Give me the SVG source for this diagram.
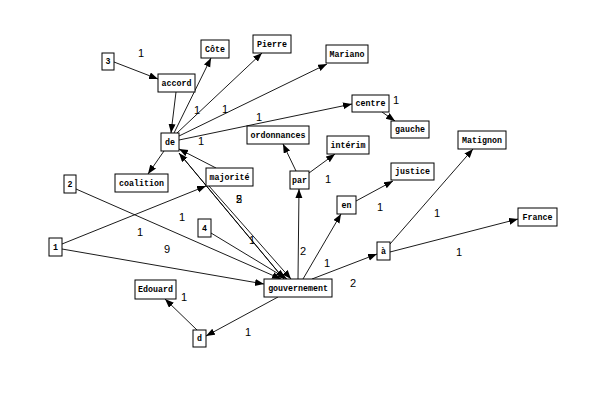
<svg xmlns="http://www.w3.org/2000/svg" width="593" height="402" viewBox="0 0 593 402">
<style>
.n rect{fill:#fff;stroke:#000;stroke-width:1}
.n text{font-family:"Liberation Mono",monospace;font-size:8.3px;font-weight:bold;text-anchor:middle;fill:#000}
.e path{fill:none;stroke:#000;stroke-width:0.9;marker-end:url(#a)}
.l text{font-family:"Liberation Sans",Arial,sans-serif;font-size:11px;text-anchor:middle;fill:#000}
</style>
<defs>
<marker id="a" markerUnits="userSpaceOnUse" markerWidth="10" markerHeight="8" refX="9" refY="3.5" orient="auto">
<path d="M0,0 L9,3.5 L0,7 z" fill="#000"/>
</marker>
</defs>
<rect width="593" height="402" fill="#fff"/>
<g id="edges" class="e">
<path d="M114,62 L158,79"/>
<path d="M176,92 L171,133"/>
<path d="M174,133 L211,58"/>
<path d="M177,133 L262,53"/>
<path d="M179,136 L327,64"/>
<path d="M179,140 L352,104"/>
<path d="M164,151 L148,174"/>
<path d="M382,112 L395,121"/>
<path d="M216,168 L179,149"/>
<path d="M284,279 L179,153"/>
<path d="M179,153 L284,279"/>
<path d="M209,186 L291,279"/>
<path d="M76,189 L281,279"/>
<path d="M62,244 L206,186"/>
<path d="M62,249 L264,284"/>
<path d="M211,233 L287,279"/>
<path d="M298,279 L299,189"/>
<path d="M303,279 L341,214"/>
<path d="M312,279 L377,254"/>
<path d="M296,171 L283,144"/>
<path d="M309,173 L335,154"/>
<path d="M356,201 L393,181"/>
<path d="M390,244 L473,149"/>
<path d="M390,252 L518,219"/>
<path d="M278,297 L206,336"/>
<path d="M197,330 L165,299"/>
</g>
<g id="labels" class="l">
<text x="141" y="57">1</text>
<text x="197" y="114">1</text>
<text x="225" y="113">1</text>
<text x="259" y="121">1</text>
<text x="201" y="145">1</text>
<text x="396" y="104">1</text>
<text x="328" y="183">1</text>
<text x="380" y="211">1</text>
<text x="437" y="217">1</text>
<text x="459" y="256">1</text>
<text x="327" y="267">1</text>
<text x="353" y="287">2</text>
<text x="303" y="255">2</text>
<text x="239" y="203">5</text>
<text x="239" y="203">2</text>
<text x="182" y="221">1</text>
<text x="140" y="236">1</text>
<text x="167" y="253">9</text>
<text x="252" y="244">1</text>
<text x="184" y="301">1</text>
<text x="248" y="336">1</text>
</g>
<g id="n3" class="n"><rect x="102" y="53" width="12" height="17"/><text x="108" y="64">3</text></g>
<g id="accord" class="n"><rect x="158" y="74" width="37" height="18"/><text x="176.5" y="86">accord</text></g>
<g id="cote" class="n"><rect x="201" y="40" width="28" height="18"/><text x="215" y="52">Côte</text></g>
<g id="pierre" class="n"><rect x="253" y="35" width="38" height="18"/><text x="272" y="47">Pierre</text></g>
<g id="mariano" class="n"><rect x="326" y="45" width="42" height="18"/><text x="347" y="57">Mariano</text></g>
<g id="centre" class="n"><rect x="352" y="95" width="37" height="17"/><text x="370.5" y="106">centre</text></g>
<g id="gauche" class="n"><rect x="391" y="121" width="38" height="17"/><text x="410" y="132">gauche</text></g>
<g id="de" class="n"><rect x="161" y="133" width="18" height="18"/><text x="170" y="145">de</text></g>
<g id="ordonnances" class="n"><rect x="247" y="126" width="62" height="18"/><text x="278" y="138">ordonnances</text></g>
<g id="interim" class="n"><rect x="327" y="136" width="42" height="18"/><text x="348" y="148">intérim</text></g>
<g id="matignon" class="n"><rect x="458" y="131" width="48" height="18"/><text x="482" y="143">Matignon</text></g>
<g id="coalition" class="n"><rect x="115" y="174" width="53" height="18"/><text x="141.5" y="186">coalition</text></g>
<g id="majorite" class="n"><rect x="206" y="168" width="47" height="18"/><text x="229.5" y="180">majorité</text></g>
<g id="par" class="n"><rect x="290" y="171" width="19" height="18"/><text x="299.5" y="183">par</text></g>
<g id="justice" class="n"><rect x="391" y="163" width="43" height="17"/><text x="412.5" y="174">justice</text></g>
<g id="n2" class="n"><rect x="64" y="175" width="12" height="18"/><text x="70" y="187">2</text></g>
<g id="en" class="n"><rect x="337" y="196" width="19" height="18"/><text x="346.5" y="208">en</text></g>
<g id="france" class="n"><rect x="518" y="208" width="39" height="18"/><text x="537.5" y="220">France</text></g>
<g id="n4" class="n"><rect x="198" y="219" width="13" height="18"/><text x="204.5" y="231">4</text></g>
<g id="n1" class="n"><rect x="49" y="238" width="13" height="18"/><text x="55.5" y="250">1</text></g>
<g id="a_" class="n"><rect x="377" y="242" width="13" height="18"/><text x="383.5" y="254">à</text></g>
<g id="gouvernement" class="n"><rect x="264" y="279" width="68" height="18"/><text x="298" y="291">gouvernement</text></g>
<g id="edouard" class="n"><rect x="135" y="280" width="41" height="19"/><text x="155.5" y="292">Edouard</text></g>
<g id="d" class="n"><rect x="193" y="330" width="13" height="17"/><text x="199.5" y="341">d</text></g>
</svg>
